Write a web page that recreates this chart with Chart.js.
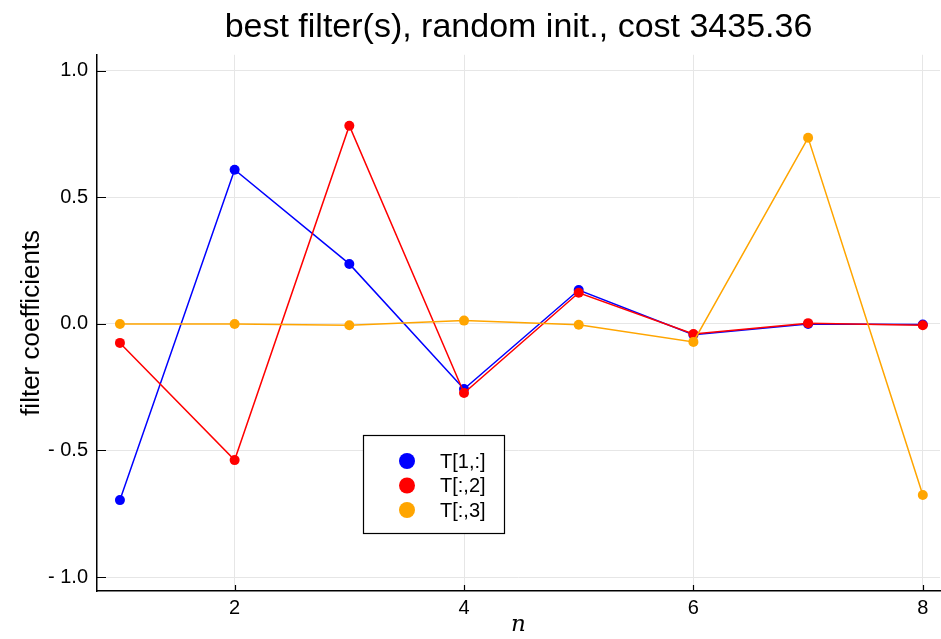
<!DOCTYPE html>
<html>
<head>
<meta charset="utf-8">
<script src="https://cdn.jsdelivr.net/npm/chart.js@4.4.1/dist/chart.umd.min.js"></script>
<style>
  html, body { margin: 0; padding: 0; background: #fff; }
  #wrap { width: 941px; height: 639px; }
</style>
</head>
<body>
<div id="wrap"><canvas id="chart"></canvas></div>
<script>
  // values
  const nValues = [1, 2, 3, 4, 5, 6, 7, 8];
  const seriesT1 = [-0.696, 0.609, 0.237, -0.257, 0.134, -0.043, 0.0, -0.002];
  const seriesT2 = [-0.075, -0.538, 0.783, -0.273, 0.123, -0.040, 0.003, -0.005];
  const seriesT3 = [0.0, 0.0, -0.005, 0.013, -0.003, -0.071, 0.735, -0.676];
  const seriesLabels = ['T[1,:]', 'T[:,2]', 'T[:,3]'];
  const xTickValues = [2, 4, 6, 8];
  const yTickValues = [-1.0, -0.5, 0.0, 0.5, 1.0];
  const yTickLabels = ['- 1.0', '- 0.5', '0.0', '0.5', '1.0'];

  const fontFamily = '"Liberation Sans", Arial, sans-serif';

  function toPoints(ys) {
    return ys.map((y, i) => ({ x: nValues[i], y: y }));
  }

  // Inward tick marks, drawn with the chart's own scales
  const innerTicks = {
    id: 'innerTicks',
    afterDatasetsDraw(chart) {
      const { ctx, chartArea, scales } = chart;
      ctx.save();
      ctx.strokeStyle = '#000';
      ctx.lineWidth = 1.2;
      ctx.beginPath();
      yTickValues.forEach(v => {
        const y = Math.round(scales.y.getPixelForValue(v)) + 0.5;
        ctx.moveTo(chartArea.left, y);
        ctx.lineTo(chartArea.left + 9, y);
      });
      xTickValues.forEach(v => {
        const x = Math.round(scales.x.getPixelForValue(v)) + 0.5;
        ctx.moveTo(x, chartArea.bottom);
        ctx.lineTo(x, chartArea.bottom - 6);
      });
      ctx.stroke();
      ctx.restore();
    }
  };

  // Boxed legend inside the plot, like the original
  const boxLegend = {
    id: 'boxLegend',
    afterDraw(chart) {
      const { ctx } = chart;
      const left = 363.5, top = 435.5, w = 141, h = 98;
      ctx.save();
      ctx.fillStyle = '#fff';
      ctx.fillRect(left, top, w, h);
      ctx.strokeStyle = '#000';
      ctx.lineWidth = 1.2;
      ctx.strokeRect(left, top, w, h);
      ctx.font = '20px ' + fontFamily;
      ctx.textBaseline = 'middle';
      chart.data.datasets.forEach((ds, i) => {
        const cy = 461 + i * 24.5;
        ctx.fillStyle = ds.borderColor;
        ctx.beginPath();
        ctx.arc(407, cy, 8, 0, Math.PI * 2);
        ctx.fill();
        ctx.fillStyle = '#000';
        ctx.fillText(ds.label, 440, cy + 1);
      });
      ctx.restore();
    }
  };

  const colors = ['#0000ff', '#ff0000', '#ffa500'];
  const datasets = [seriesT1, seriesT2, seriesT3].map((ys, i) => ({
    label: seriesLabels[i],
    data: toPoints(ys),
    borderColor: colors[i],
    backgroundColor: colors[i],
    borderWidth: 1.5,
    pointRadius: 5,
    pointHoverRadius: 5,
    pointBorderWidth: 0,
    tension: 0,
    order: 3 - i
  }));

  new Chart(document.getElementById('chart'), {
    type: 'line',
    data: { datasets: datasets },
    options: {
      responsive: true,
      maintainAspectRatio: false,
      animation: false,
      events: [],
      layout: { autoPadding: false, padding: { left: 0, right: 1, top: 0, bottom: 0 } },
      plugins: {
        legend: { display: false },
        tooltip: { enabled: false },
        title: {
          display: true,
          fullSize: false,
          text: 'best filter(s), random init., cost 3435.36',
          color: '#000',
          font: { family: fontFamily, size: 34, weight: 'normal' },
          padding: { top: 7, bottom: 7 }
        }
      },
      scales: {
        x: {
          type: 'linear',
          min: 0.8,
          max: 8.15,
          afterBuildTicks: scale => { scale.ticks = xTickValues.map(v => ({ value: v })); },
          afterFit: scale => {
            scale.height = 48;
            scale.paddingLeft = 0;
            scale.paddingRight = 0;
          },
          grid: { color: '#e6e6e6', lineWidth: 1, drawTicks: false },
          border: { display: true, color: '#000', width: 1.5 },
          ticks: {
            color: '#000',
            padding: 5,
            maxRotation: 0,
            font: { family: fontFamily, size: 20 },
            callback: v => String(v)
          },
          title: {
            display: true,
            text: 'n',
            color: '#000',
            font: { family: '"DejaVu Serif", serif', size: 23, style: 'italic' },
            padding: { top: 0, bottom: 0 }
          }
        },
        y: {
          type: 'linear',
          min: -1.055,
          max: 1.063,
          afterBuildTicks: scale => { scale.ticks = yTickValues.map(v => ({ value: v })); },
          afterFit: scale => {
            scale.width = 97;
            scale.paddingTop = 0;
            scale.paddingBottom = 0;
          },
          grid: { color: '#e6e6e6', lineWidth: 1, drawTicks: false },
          border: { display: true, color: '#000', width: 1.5 },
          ticks: {
            color: '#000',
            padding: 9,
            font: { family: fontFamily, size: 20 },
            callback: v => {
              const idx = yTickValues.findIndex(t => Math.abs(t - v) < 1e-9);
              return idx >= 0 ? yTickLabels[idx] : '';
            }
          },
          title: {
            display: true,
            text: 'filter coefficients',
            color: '#000',
            font: { family: fontFamily, size: 26 },
            padding: { top: 16, bottom: 0 }
          }
        }
      }
    },
    plugins: [innerTicks, boxLegend]
  });
</script>
</body>
</html>
